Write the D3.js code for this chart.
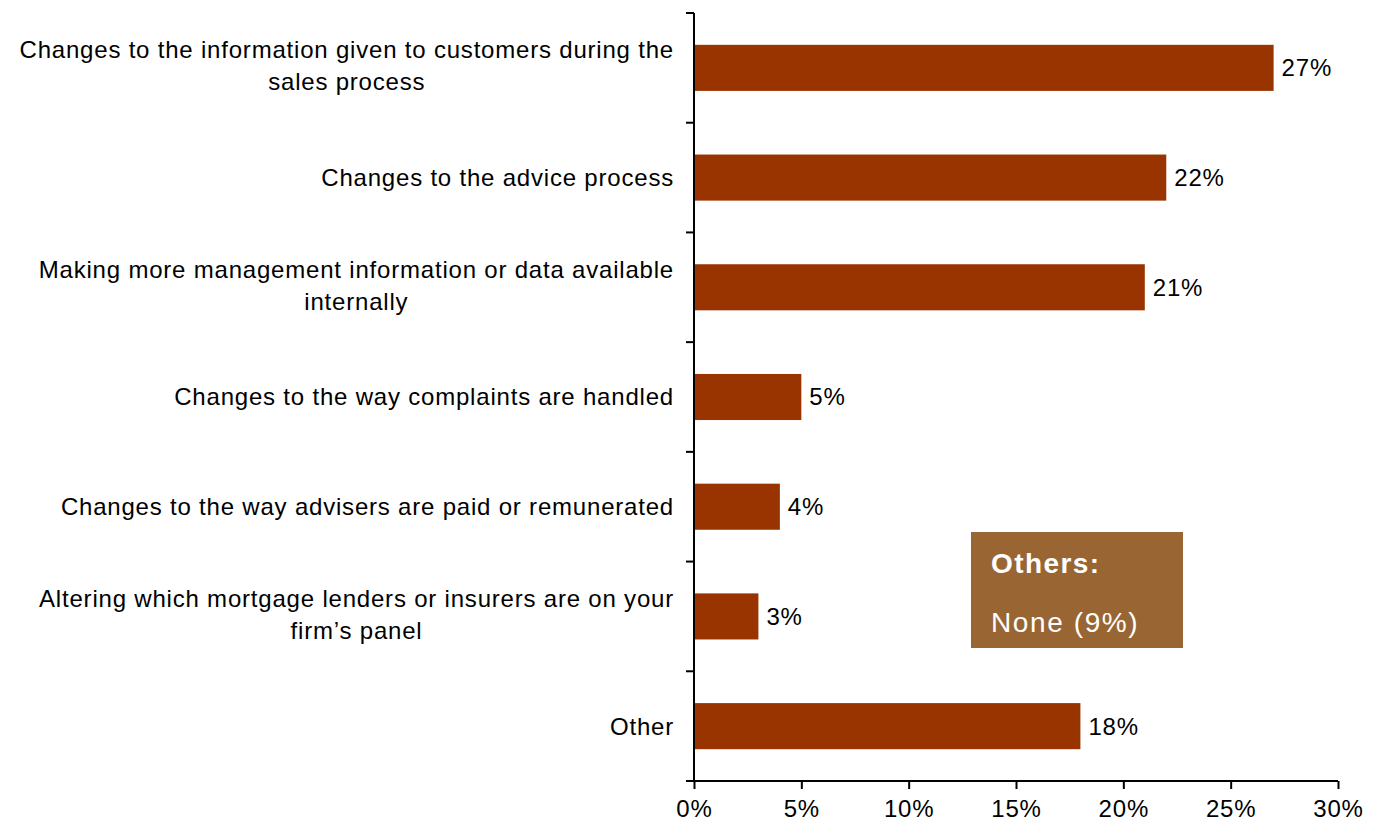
<!DOCTYPE html>
<html>
<head>
<meta charset="utf-8">
<script src="https://cdn.jsdelivr.net/npm/d3@7"></script>
<style>
body { margin: 0; background: #fff; }
svg { display: block; font-family: "Liberation Sans", Arial, sans-serif; }
</style>
</head>
<body>
<div id="container"></div>
<script>
///data
const categories = [
  ["Changes to the information given to customers during the", "sales process"],
  ["Changes to the advice process"],
  ["Making more management information or data available", "internally"],
  ["Changes to the way complaints are handled"],
  ["Changes to the way advisers are paid or remunerated"],
  ["Altering which mortgage lenders or insurers are on your", "firm\u2019s panel"],
  ["Other"]
];
const values = [27, 22, 21, 5, 4, 3, 18];
const xTicks = [0, 5, 10, 15, 20, 25, 30];
const noteTitle = "Others:";
const noteText = "None (9%)";

///vars
let w = 1381,
h = 829;
const padL = 694, padR = 1338, padT = 13, padB = 781;
const fs = 24, ls = 0.8;

let svgs = d3.select("#container").append("svg")
  .attr("width", w).attr("height", h);

const x = d3.scaleLinear().domain([0, 30]).range([padL, padR]);
const y = d3.scaleBand().domain(d3.range(categories.length)).range([padT, padB]).paddingInner(0.58).paddingOuter(0.29);

///bars
svgs.append("g").selectAll("rect").data(values).join("rect")
  .attr("x", x(0))
  .attr("y", (d, i) => y(i))
  .attr("width", d => x(d) - x(0))
  .attr("height", y.bandwidth())
  .attr("fill", "#993300");

///value labels
svgs.append("g").selectAll("text").data(values).join("text")
  .attr("x", d => x(d) + 8)
  .attr("y", (d, i) => y(i) + y.bandwidth() / 2)
  .attr("dy", "0.35em")
  .attr("font-size", fs)
  .attr("letter-spacing", ls)
  .attr("fill", "#000")
  .text(d => d + "%");

///x axis
const xAxis = d3.axisBottom(x).tickValues(xTicks).tickFormat(d => d + "%").tickSize(8).tickSizeOuter(0);
const gx = svgs.append("g").attr("transform", "translate(0," + padB + ")").call(xAxis);
gx.select(".domain").attr("stroke", "#000").attr("stroke-width", 2).attr("d", "M" + padL + ",0H" + padR);
gx.selectAll(".tick line").attr("stroke", "#000").attr("stroke-width", 2);
gx.selectAll(".tick text").attr("font-size", fs).attr("letter-spacing", ls)
  .attr("font-family", "Liberation Sans, Arial, sans-serif").attr("fill", "#000").attr("dy", "1.05em");

///y axis
const step = y.step();
const boundaries = d3.range(categories.length + 1).map(i => padT + i * step);
const gy = svgs.append("g");
gy.append("line").attr("x1", padL).attr("x2", padL).attr("y1", padT).attr("y2", padB)
  .attr("stroke", "#000").attr("stroke-width", 2);
gy.selectAll(".yt").data(boundaries).join("line").attr("class", "yt")
  .attr("x1", padL - 8).attr("x2", padL).attr("y1", d => d).attr("y2", d => d)
  .attr("stroke", "#000").attr("stroke-width", 2);

///category labels
const lineH = 32;
const labels = svgs.append("g").selectAll("text").data(categories).join("text")
  .attr("font-size", fs)
  .attr("letter-spacing", ls)
  .attr("fill", "#000")
  .attr("text-anchor", "middle");
labels.each(function(lines, i) {
  const t = d3.select(this);
  const cy = y(i) + y.bandwidth() / 2 - (lines.length > 1 ? 2 : 0);
  const y0 = cy - (lines.length - 1) * lineH / 2;
  lines.forEach((ln, j) => {
    t.append("tspan").attr("y", y0 + j * lineH).attr("dy", "0.35em").text(ln);
  });
});
// right-align the centred block
labels.each(function() {
  const t = d3.select(this);
  const tsp = t.selectAll("tspan");
  let maxW = 0;
  tsp.each(function() { maxW = Math.max(maxW, this.getComputedTextLength()); });
  tsp.attr("x", padL - 20 - maxW / 2);
});

///note box
const note = svgs.append("g");
note.append("rect").attr("x", 971).attr("y", 532).attr("width", 212).attr("height", 116).attr("fill", "#996633");
note.append("text").attr("x", 991).attr("y", 573).attr("font-size", 28).attr("letter-spacing", 1.4).attr("font-weight", "bold").attr("fill", "#fff").text(noteTitle);
note.append("text").attr("x", 991).attr("y", 632).attr("font-size", 28).attr("letter-spacing", 1.6).attr("fill", "#fff").text(noteText);
</script>
</body>
</html>
